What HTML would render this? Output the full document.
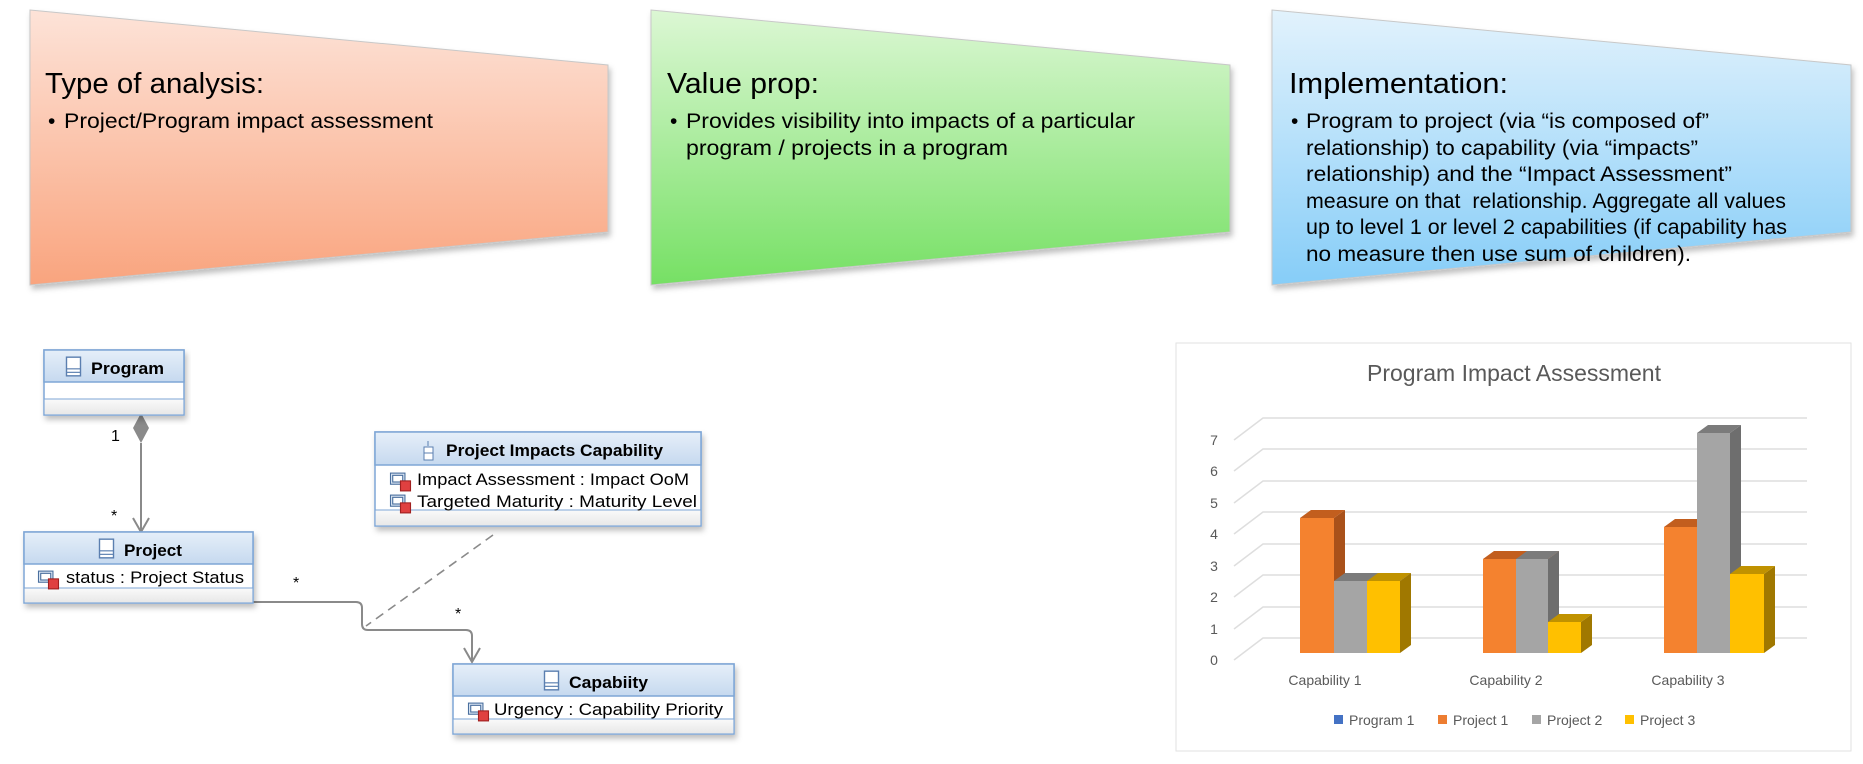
<!DOCTYPE html>
<html><head><meta charset="utf-8"><style>
html,body{margin:0;padding:0;background:#fff;}
svg{display:block;font-family:"Liberation Sans",sans-serif;}
</style></head><body>
<svg width="1863" height="764" viewBox="0 0 1863 764" xmlns="http://www.w3.org/2000/svg">
<defs>
<linearGradient id="g1" x1="0" y1="0" x2="0" y2="1"><stop offset="0" stop-color="#fde3d8"/><stop offset="1" stop-color="#f9a47e"/></linearGradient>
<linearGradient id="g2" x1="0" y1="0" x2="0" y2="1"><stop offset="0" stop-color="#dcf7d4"/><stop offset="1" stop-color="#76e064"/></linearGradient>
<linearGradient id="g3" x1="0" y1="0" x2="0" y2="1"><stop offset="0" stop-color="#e2f2fc"/><stop offset="1" stop-color="#86cdf8"/></linearGradient>
<linearGradient id="hd" x1="0" y1="0" x2="0" y2="1"><stop offset="0" stop-color="#e6eff9"/><stop offset="1" stop-color="#c6d9ef"/></linearGradient>
<linearGradient id="ft" x1="0" y1="0" x2="0" y2="1"><stop offset="0" stop-color="#fafafa"/><stop offset="1" stop-color="#e8e8e8"/></linearGradient>
<filter id="sh" x="-5%" y="-5%" width="110%" height="120%"><feDropShadow dx="2" dy="4" stdDeviation="3" flood-color="#000" flood-opacity="0.25"/></filter>
<symbol id="cls" viewBox="0 0 14 18"><rect x="1" y="1" width="12" height="16" fill="#fff" stroke="#5b7fb0" stroke-width="1.2"/><line x1="1" y1="11" x2="13" y2="11" stroke="#5b7fb0"/><line x1="1" y1="14" x2="13" y2="14" stroke="#5b7fb0"/></symbol>
<symbol id="attr" viewBox="0 0 20 18"><rect x="1" y="1" width="13" height="10" fill="#dde8f5" stroke="#4a6f9e"/><rect x="3" y="3" width="9" height="6" fill="#fff" stroke="#4a6f9e"/><rect x="10" y="8" width="9" height="9" fill="#e04040" stroke="#a02020"/></symbol>
</defs>

<polygon points="30,10 608,65 608,232 30,285" fill="url(#g1)" stroke="#c8c8c8" filter="url(#sh)"/>
<polygon points="651,10 1230,65 1230,232 651,285" fill="url(#g2)" stroke="#c8c8c8" filter="url(#sh)"/>
<polygon points="1272,10 1851,65 1851,232 1272,285" fill="url(#g3)" stroke="#c8c8c8" filter="url(#sh)"/>

<g fill="#000">
<text x="45" y="93" font-size="29" textLength="219" lengthAdjust="spacingAndGlyphs">Type of analysis:</text>
<text x="48" y="128" font-size="21">•</text>
<text x="64" y="128" font-size="21" textLength="369" lengthAdjust="spacingAndGlyphs">Project/Program impact assessment</text>

<text x="667" y="93" font-size="29" textLength="152" lengthAdjust="spacingAndGlyphs">Value prop:</text>
<text x="670" y="128" font-size="21">•</text>
<text x="686" y="128" font-size="21" textLength="449" lengthAdjust="spacingAndGlyphs">Provides visibility into impacts of a particular</text>
<text x="686" y="155" font-size="21" textLength="322" lengthAdjust="spacingAndGlyphs">program / projects in a program</text>

<text x="1289" y="93" font-size="29" textLength="219" lengthAdjust="spacingAndGlyphs">Implementation:</text>
<text x="1291" y="128" font-size="21">•</text>
<g font-size="21">
<text x="1306" y="128" textLength="403" lengthAdjust="spacingAndGlyphs">Program to project (via “is composed of”</text>
<text x="1306" y="155" textLength="392" lengthAdjust="spacingAndGlyphs">relationship) to capability (via “impacts”</text>
<text x="1306" y="181" textLength="426" lengthAdjust="spacingAndGlyphs">relationship) and the “Impact Assessment”</text>
<text x="1306" y="208" textLength="480" lengthAdjust="spacingAndGlyphs">measure on that&#160; relationship. Aggregate all values</text>
<text x="1306" y="234" textLength="481" lengthAdjust="spacingAndGlyphs">up to level 1 or level 2 capabilities (if capability has</text>
<text x="1306" y="261" textLength="385" lengthAdjust="spacingAndGlyphs">no measure then use sum of children).</text>
</g>
</g>

<g stroke="#8a8a8a" stroke-width="2" fill="none">
<line x1="141" y1="443" x2="141" y2="530"/>
<polyline points="133,518 141,532 149,518"/>
<path d="M253,602 H356 Q362,602 362,608 V624 Q362,630 368,630 H466 Q472,630 472,636 V661"/>
<polyline points="464,648 472,662 480,648"/>
<line x1="493" y1="535" x2="366" y2="626" stroke-dasharray="9,6" stroke-width="1.6"/>
</g>
<polygon points="141,413 149,428 141,443 133,428" fill="#8a8a8a"/>
<g font-size="16" fill="#000">
<text x="111" y="441">1</text>
<text x="111" y="521">*</text>
<text x="293" y="588">*</text>
<text x="455" y="619">*</text>
</g>

<g filter="url(#sh)"><rect x="44" y="350" width="140" height="65" fill="#fff" stroke="#7ea6d6" stroke-width="1.5"/></g>
<rect x="44" y="350" width="140" height="32" fill="url(#hd)" stroke="#7ea6d6" stroke-width="1.5"/>
<rect x="44.7" y="399" width="138.6" height="15.3" fill="url(#ft)"/>
<line x1="44" y1="399" x2="184" y2="399" stroke="#7ea6d6"/>
<use href="#cls" x="65" y="356" width="17" height="21"/>
<text x="91" y="374" font-size="17" font-weight="bold" textLength="73" lengthAdjust="spacingAndGlyphs">Program</text>

<g filter="url(#sh)"><rect x="24" y="532" width="229" height="71" fill="#fff" stroke="#7ea6d6" stroke-width="1.5"/></g>
<rect x="24" y="532" width="229" height="32" fill="url(#hd)" stroke="#7ea6d6" stroke-width="1.5"/>
<rect x="24.7" y="588" width="227.6" height="14.3" fill="url(#ft)"/>
<line x1="24" y1="588" x2="253" y2="588" stroke="#7ea6d6"/>
<use href="#cls" x="98" y="538" width="17" height="21"/>
<text x="124" y="556" font-size="17" font-weight="bold" textLength="58" lengthAdjust="spacingAndGlyphs">Project</text>
<use href="#attr" x="36" y="570" width="25" height="20"/>
<text x="66" y="583" font-size="17" textLength="178" lengthAdjust="spacingAndGlyphs">status : Project Status</text>

<g filter="url(#sh)"><rect x="375" y="432" width="326" height="94" fill="#fff" stroke="#7ea6d6" stroke-width="1.5"/></g>
<rect x="375" y="432" width="326" height="33" fill="url(#hd)" stroke="#7ea6d6" stroke-width="1.5"/>
<rect x="375.7" y="510" width="324.6" height="15.3" fill="url(#ft)"/>
<line x1="375" y1="510" x2="701" y2="510" stroke="#7ea6d6"/>
<g transform="translate(423,441)"><line x1="5" y1="0" x2="5" y2="5" stroke="#5b7fb0"/><rect x="1" y="6" width="9" height="13" fill="#fff" stroke="#5b7fb0"/><line x1="1" y1="12" x2="10" y2="12" stroke="#5b7fb0"/></g>
<text x="446" y="456" font-size="17" font-weight="bold" textLength="217" lengthAdjust="spacingAndGlyphs">Project Impacts Capability</text>
<use href="#attr" x="388" y="472" width="25" height="20"/>
<text x="417" y="485" font-size="17" textLength="272" lengthAdjust="spacingAndGlyphs">Impact Assessment : Impact OoM</text>
<use href="#attr" x="388" y="494" width="25" height="20"/>
<text x="417" y="507" font-size="17" textLength="280" lengthAdjust="spacingAndGlyphs">Targeted Maturity : Maturity Level</text>

<g filter="url(#sh)"><rect x="453" y="664" width="281" height="70" fill="#fff" stroke="#7ea6d6" stroke-width="1.5"/></g>
<rect x="453" y="664" width="281" height="32" fill="url(#hd)" stroke="#7ea6d6" stroke-width="1.5"/>
<rect x="453.7" y="719" width="279.6" height="14.3" fill="url(#ft)"/>
<line x1="453" y1="719" x2="734" y2="719" stroke="#7ea6d6"/>
<use href="#cls" x="543" y="670" width="17" height="21"/>
<text x="569" y="688" font-size="17" font-weight="bold" textLength="79" lengthAdjust="spacingAndGlyphs">Capabiity</text>
<use href="#attr" x="466" y="702" width="25" height="20"/>
<text x="494" y="715" font-size="17" textLength="229" lengthAdjust="spacingAndGlyphs">Urgency : Capability Priority</text>

<rect x="1176" y="343" width="675" height="408" fill="#fff" stroke="#e2e2e2"/>
<text x="1514" y="381" font-size="23" fill="#595959" text-anchor="middle">Program Impact Assessment</text>
<g stroke="#dedede" stroke-width="1.5" fill="none">
<polyline points="1234,660 1263,638 1807,638"/>
<polyline points="1234,629 1263,607 1807,607"/>
<polyline points="1234,597 1263,575 1807,575"/>
<polyline points="1234,566 1263,544 1807,544"/>
<polyline points="1234,534 1263,512 1807,512"/>
<polyline points="1234,503 1263,481 1807,481"/>
<polyline points="1234,471 1263,449 1807,449"/>
<polyline points="1234,440 1263,418 1807,418"/>
</g>
<g font-size="14" fill="#595959" text-anchor="middle">
<text x="1214" y="665">0</text><text x="1214" y="634">1</text><text x="1214" y="602">2</text><text x="1214" y="571">3</text>
<text x="1214" y="539">4</text><text x="1214" y="508">5</text><text x="1214" y="476">6</text><text x="1214" y="445">7</text>
</g>
<g>
<polygon points="1334,518 1345,510 1345,645 1334,653" fill="#a9511a"/><polygon points="1300,518 1311,510 1345,510 1334,518" fill="#c25e1e"/><rect x="1300" y="518" width="34" height="135" fill="#f4822f"/>
<polygon points="1400,581 1411,573 1411,645 1400,653" fill="#a07800"/><polygon points="1334,581 1345,573 1411,573 1400,581" fill="#7b7b7b"/>
<polygon points="1367,581 1378,573 1411,573 1400,581" fill="#c09200"/>
<rect x="1334" y="581" width="33" height="72" fill="#a5a5a5"/><rect x="1367" y="581" width="33" height="72" fill="#ffc000"/>
<polygon points="1548,559 1559,551 1559,645 1548,653" fill="#6e6e6e"/><polygon points="1483,559 1494,551 1559,551 1548,559" fill="#c25e1e"/><polygon points="1516,559 1527,551 1559,551 1548,559" fill="#7b7b7b"/>
<rect x="1483" y="559" width="33" height="94" fill="#f4822f"/><rect x="1516" y="559" width="32" height="94" fill="#a5a5a5"/>
<polygon points="1581,622 1592,614 1592,645 1581,653" fill="#a07800"/><polygon points="1548,622 1559,614 1592,614 1581,622" fill="#c09200"/><rect x="1548" y="622" width="33" height="31" fill="#ffc000"/>
<polygon points="1664,527 1675,519 1708,519 1697,527" fill="#c25e1e"/><rect x="1664" y="527" width="33" height="126" fill="#f4822f"/>
<polygon points="1730,433 1741,425 1741,645 1730,653" fill="#6e6e6e"/><polygon points="1697,433 1708,425 1741,425 1730,433" fill="#7b7b7b"/><rect x="1697" y="433" width="33" height="220" fill="#a5a5a5"/>
<polygon points="1764,574 1775,566 1775,645 1764,653" fill="#a07800"/><polygon points="1730,574 1741,566 1775,566 1764,574" fill="#c09200"/><rect x="1730" y="574" width="34" height="79" fill="#ffc000"/>
</g>
<g font-size="14" fill="#595959" text-anchor="middle">
<text x="1325" y="685">Capability 1</text><text x="1506" y="685">Capability 2</text><text x="1688" y="685">Capability 3</text>
</g>
<g font-size="14" fill="#595959">
<rect x="1334" y="715" width="9" height="9" fill="#4472c4"/><text x="1349" y="725">Program 1</text>
<rect x="1438" y="715" width="9" height="9" fill="#ed7d31"/><text x="1453" y="725">Project 1</text>
<rect x="1532" y="715" width="9" height="9" fill="#a5a5a5"/><text x="1547" y="725">Project 2</text>
<rect x="1625" y="715" width="9" height="9" fill="#ffc000"/><text x="1640" y="725">Project 3</text>
</g>
</svg>
</body></html>
